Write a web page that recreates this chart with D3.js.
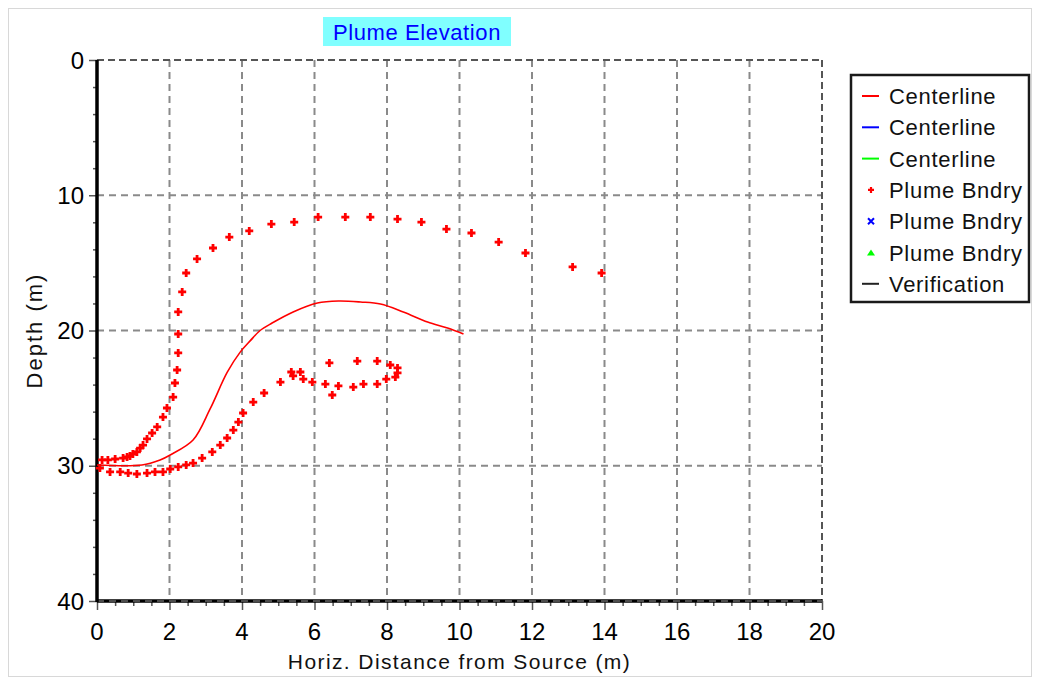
<!DOCTYPE html>
<html>
<head>
<meta charset="utf-8">
<script src="https://cdn.jsdelivr.net/npm/d3@7/dist/d3.min.js"></script>
<style>
  body { margin: 0; background: #fff; }
  text { font-family: "Liberation Sans", Arial, sans-serif; }
</style>
</head>
<body>
<div id="chart"></div>
<script>
// centerline of the plume (x in m, depth in m)
var centerX = [0, 1.24, 1.74, 2.02, 2.65, 3.12, 3.59, 3.95, 4.23, 4.5, 4.83, 5.41, 6.08, 6.66, 7.27, 7.82, 8.45, 9.12, 9.67, 10.11];
var centerD = [29.94, 29.94, 29.57, 29.2, 28.1, 25.8, 23.1, 21.6, 20.75, 20.0, 19.45, 18.63, 17.97, 17.82, 17.89, 18.04, 18.63, 19.37, 19.82, 20.26];

// plume boundary, upper side
var upperX = [0.14, 0.30, 0.50, 0.72, 0.83, 0.91, 0.99, 1.10, 1.19, 1.27, 1.38, 1.52, 1.66, 1.82, 1.93, 2.10, 2.15, 2.21, 2.24, 2.24, 2.24, 2.35, 2.46, 2.76, 3.20, 3.65, 4.20, 4.81, 5.44, 6.10, 6.85, 7.54, 8.29, 8.95, 9.64, 10.33, 11.08, 11.82, 13.12, 13.92];
var upperD = [29.57, 29.57, 29.50, 29.43, 29.35, 29.28, 29.13, 28.98, 28.69, 28.47, 28.02, 27.58, 27.13, 26.40, 25.73, 24.92, 23.88, 22.92, 21.66, 20.26, 18.63, 17.15, 15.75, 14.71, 13.90, 13.09, 12.64, 12.13, 11.98, 11.61, 11.61, 11.61, 11.76, 11.98, 12.50, 12.79, 13.46, 14.27, 15.30, 15.75];

// plume boundary, lower side
var lowerX = [0.08, 0.36, 0.64, 0.86, 1.10, 1.38, 1.60, 1.82, 2.02, 2.24, 2.46, 2.65, 2.90, 3.18, 3.40, 3.59, 3.76, 3.90, 4.03, 4.31, 4.61, 5.06, 5.36, 5.41, 5.61, 5.69, 5.94, 6.30, 6.49, 6.66, 7.07, 7.35, 7.73, 7.98, 8.23, 8.29, 8.29, 8.09, 7.73, 7.18, 6.41];
var lowerD = [30.17, 30.46, 30.46, 30.54, 30.61, 30.54, 30.46, 30.46, 30.24, 30.09, 29.94, 29.80, 29.43, 28.98, 28.47, 27.95, 27.36, 26.77, 26.10, 25.29, 24.62, 23.81, 23.07, 23.36, 23.07, 23.59, 23.81, 23.96, 24.77, 24.10, 24.18, 23.96, 23.96, 23.59, 23.44, 23.14, 22.77, 22.55, 22.26, 22.26, 22.40];

var xTicks = [0, 2, 4, 6, 8, 10, 12, 14, 16, 18, 20];
var yTicks = [0, 10, 20, 30, 40];
var legendNames = ["Centerline", "Centerline", "Centerline", "Plume Bndry", "Plume Bndry", "Plume Bndry", "Verification"];
var legendColors = ["#ff0000", "#0000ff", "#00ff00", "#ff0000", "#0000ff", "#00ff00", "#222222"];
var legendKinds = ["line", "line", "line", "plus", "cross", "tri", "line"];

var W = 1038, H = 680;
var svg = d3.select("#chart").append("svg").attr("width", W).attr("height", H);

// outer frame
svg.append("rect").attr("x", 8.5).attr("y", 8.5).attr("width", 1023).attr("height", 668)
    .attr("fill", "#fff").attr("stroke", "#d8d8d8").attr("stroke-width", 1);

var x = d3.scaleLinear().domain([0, 20]).range([97, 822]);
var y = d3.scaleLinear().domain([0, 40]).range([60, 601]);

// grid
var grid = svg.append("g");
grid.selectAll(".gx").data(xTicks.slice(1, -1)).enter().append("line")
    .attr("x1", d => x(d)).attr("x2", d => x(d)).attr("y1", y(0)).attr("y2", y(40))
    .attr("stroke", "#8a8a8a").attr("stroke-width", 2).attr("stroke-dasharray", "7,5");
grid.selectAll(".gy").data(yTicks.slice(1, -1)).enter().append("line")
    .attr("x1", x(0)).attr("x2", x(20)).attr("y1", d => y(d)).attr("y2", d => y(d))
    .attr("stroke", "#8a8a8a").attr("stroke-width", 2).attr("stroke-dasharray", "7,5");
// top and right borders
grid.append("line").attr("x1", x(0)).attr("x2", x(20)).attr("y1", y(0)).attr("y2", y(0))
    .attr("stroke", "#555").attr("stroke-width", 2).attr("stroke-dasharray", "7,4");
grid.append("line").attr("x1", x(20)).attr("x2", x(20)).attr("y1", y(0)).attr("y2", y(40))
    .attr("stroke", "#555").attr("stroke-width", 2).attr("stroke-dasharray", "7,4");

// bottom axis
var xAxis = d3.axisBottom(x).tickValues(d3.range(0, 20.01, 0.5)).tickSize(5).tickFormat("");
var gx = svg.append("g").attr("transform", "translate(0," + y(40) + ")").call(xAxis);
gx.select(".domain").remove();
gx.selectAll(".tick line").attr("stroke", "#555").attr("stroke-width", 1.5)
    .attr("y2", d => (d % 2 === 0 ? 9 : 5));
svg.selectAll(".xlbl").data(xTicks).enter().append("text")
    .attr("x", d => x(d)).attr("y", 640)
    .attr("text-anchor", "middle").attr("font-size", 24).attr("fill", "#000").text(d => d);
svg.append("line").attr("x1", x(0)).attr("x2", x(20)).attr("y1", y(40)).attr("y2", y(40))
    .attr("stroke", "#000").attr("stroke-width", 3.5);
svg.append("line").attr("x1", x(0)).attr("x2", x(20)).attr("y1", y(40)).attr("y2", y(40))
    .attr("stroke", "#999").attr("stroke-width", 1).attr("stroke-dasharray", "7,5");

// left axis
var yAxis = d3.axisLeft(y).tickValues(d3.range(0, 40.01, 2)).tickSize(4).tickFormat("");
var gy = svg.append("g").attr("transform", "translate(" + x(0) + ",0)").call(yAxis);
gy.select(".domain").remove();
gy.selectAll(".tick line").attr("stroke", "#555").attr("stroke-width", 1.5)
    .attr("x2", d => (d % 10 === 0 ? -8 : -4));
svg.selectAll(".ylbl").data(yTicks).enter().append("text")
    .attr("x", 84).attr("y", d => y(d) + 8.5).attr("text-anchor", "end")
    .attr("font-size", 24).attr("fill", "#000").text(d => d);
svg.append("line").attr("x1", x(0)).attr("x2", x(0)).attr("y1", y(0)).attr("y2", y(40) + 1)
    .attr("stroke", "#000").attr("stroke-width", 3.5);

// axis titles
svg.append("text").attr("x", (x(0) + x(20)) / 2).attr("y", 669).attr("text-anchor", "middle")
    .attr("font-size", 21).attr("letter-spacing", 1.4).attr("fill", "#111").text("Horiz. Distance from Source (m)");
svg.append("text").attr("transform", "translate(42," + ((y(0) + y(40)) / 2) + ") rotate(-90)")
    .attr("text-anchor", "middle").attr("font-size", 22).attr("letter-spacing", 2)
    .attr("fill", "#111").text("Depth (m)");

// title
var title = svg.append("g");
title.append("rect").attr("x", 323).attr("y", 17).attr("width", 188).attr("height", 29).attr("fill", "#80ffff");
title.append("text").attr("x", 417).attr("y", 40).attr("text-anchor", "middle")
    .attr("font-size", 22).attr("letter-spacing", 0.6).attr("fill", "#0000ff").text("Plume Elevation");

// data
var plot = svg.append("g");
var line = d3.line().x(d => x(d[0])).y(d => y(d[1])).curve(d3.curveCatmullRom);
plot.append("path").datum(d3.zip(centerX, centerD)).attr("d", line)
    .attr("fill", "none").attr("stroke", "#ff0000").attr("stroke-width", 1.6);

function plus(g, cx, cy, s, w, color) {
    g.append("path").attr("d", "M" + (cx - s) + "," + cy + "H" + (cx + s) + "M" + cx + "," + (cy - s) + "V" + (cy + s))
        .attr("stroke", color).attr("stroke-width", w).attr("fill", "none");
}
var bnd = d3.zip(upperX, upperD).concat(d3.zip(lowerX, lowerD));
bnd.forEach(function (p) { plus(plot, x(p[0]), y(p[1]), 4, 2.8, "#ff0000"); });

// legend
var lg = svg.append("g");
lg.append("rect").attr("x", 851).attr("y", 75).attr("width", 178).attr("height", 227)
    .attr("fill", "#fff").attr("stroke", "#1a1a1a").attr("stroke-width", 2.5);
legendNames.forEach(function (name, i) {
    var cy = 96 + i * 31.3;
    var c = legendColors[i];
    if (legendKinds[i] === "line") {
        lg.append("line").attr("x1", 862).attr("x2", 879).attr("y1", cy).attr("y2", cy)
            .attr("stroke", c).attr("stroke-width", 2);
    } else if (legendKinds[i] === "plus") {
        plus(lg, 871, cy, 3, 2.2, c);
    } else if (legendKinds[i] === "cross") {
        lg.append("path").attr("d", "M868,"+(cy-3)+"L874,"+(cy+3)+"M874,"+(cy-3)+"L868,"+(cy+3))
            .attr("stroke", c).attr("stroke-width", 2).attr("fill", "none");
    } else {
        lg.append("path").attr("d", "M871," + (cy - 3) + "L875," + (cy + 3) + "L867," + (cy + 3) + "Z")
            .attr("fill", c);
    }
    lg.append("text").attr("x", 889).attr("y", cy + 8).attr("font-size", 22).attr("letter-spacing", 0.7)
        .attr("fill", "#111").text(name);
});
</script>
</body>
</html>
